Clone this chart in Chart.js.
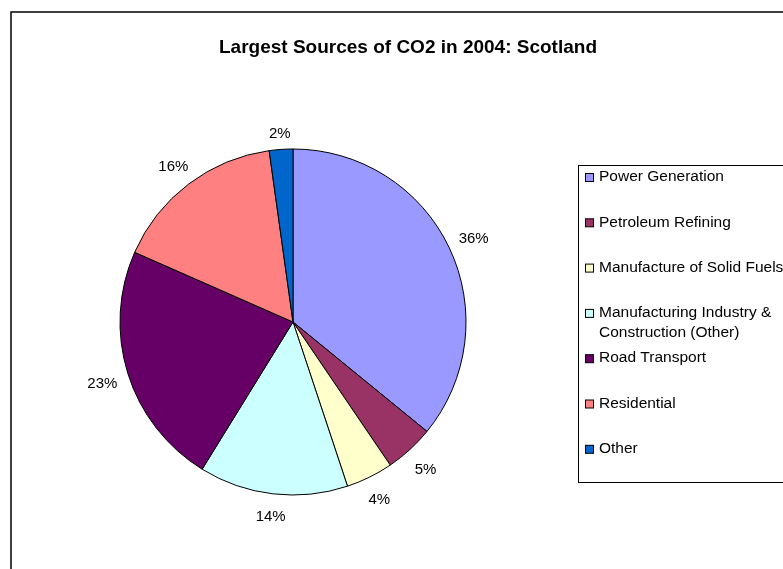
<!DOCTYPE html>
<html lang="en">
<head>
    <meta charset="UTF-8">
    <title>Largest Sources of CO2 in 2004: Scotland</title>
    <!-- Chart.js -->
    <script src="https://cdn.jsdelivr.net/npm/chart.js@4"></script>
    <style>
        html, body { margin: 0; padding: 0; background: #fff; overflow: hidden; }
        #grafico { display: block; }
    </style>
</head>
<body>
<canvas id="grafico" width="783" height="569"></canvas>

<script>
    // Datos (porcentajes aproximados)
    const categorias = [
        'Power Generation',
        'Petroleum Refining',
        'Manufacture of Solid Fuels',
        'Manufacturing Industry & Construction (Other)',
        'Road Transport',
        'Residential',
        'Other'
    ];
    const valores = [35.9, 4.6, 4.4, 13.9, 22.8, 16.2, 2.2];
    const colores = ['#9999FF', '#993366', '#FFFFCC', '#CCFFFF', '#660066', '#FF8080', '#0066CC'];
    const titulo = 'Largest Sources of CO2 in 2004: Scotland';

    const fuente = '"Liberation Sans", Arial, sans-serif';
    const total = valores.reduce((a, b) => a + b, 0);

    // Parte un texto en líneas que caben en maxAncho
    function partirTexto(ctx, texto, maxAncho) {
        const palabras = texto.split(' ');
        const lineas = [];
        let actual = '';
        palabras.forEach(p => {
            const prueba = actual ? actual + ' ' + p : p;
            if (actual && ctx.measureText(prueba).width > maxAncho) {
                lineas.push(actual);
                actual = p;
            } else {
                actual = prueba;
            }
        });
        if (actual) lineas.push(actual);
        return lineas;
    }

    const decoracion = {
        id: 'decoracion',
        afterDraw(chart) {
            const ctx = chart.ctx;
            ctx.save();

            // Marco exterior
            ctx.strokeStyle = '#000';
            ctx.lineWidth = 1.5;
            ctx.strokeRect(11, 12, 900, 700);

            // Título
            ctx.fillStyle = '#000';
            ctx.font = 'bold 19px ' + fuente;
            ctx.textAlign = 'center';
            ctx.textBaseline = 'middle';
            ctx.fillText(titulo, 408, 48);

            // Etiquetas de porcentaje fuera de cada sector
            ctx.font = '15px ' + fuente;
            const meta = chart.getDatasetMeta(0);
            meta.data.forEach((arc, i) => {
                const p = arc.getProps(['x', 'y', 'startAngle', 'endAngle', 'outerRadius'], true);
                const a = (p.startAngle + p.endAngle) / 2;
                const cos = Math.cos(a), sin = Math.sin(a);
                const texto = Math.round(valores[i] / total * 100) + '%';
                const w = ctx.measureText(texto).width;
                const d = p.outerRadius + 10 + Math.abs(cos) * w / 2 + Math.abs(sin) * 8;
                ctx.fillText(texto, p.x + cos * d, p.y + sin * d + 3);
            });

            // Leyenda
            ctx.lineWidth = 1;
            ctx.strokeStyle = '#000';
            ctx.strokeRect(578.5, 165.5, 300, 317);
            const items = chart.options.plugins.legend.labels.generateLabels(chart);
            ctx.font = '15.5px ' + fuente;
            ctx.textAlign = 'left';
            items.forEach((item, i) => {
                const y = 177 + i * 45.3;
                ctx.fillStyle = item.fillStyle;
                ctx.fillRect(585.5, y - 3.5, 8, 8);
                ctx.strokeStyle = '#000';
                ctx.strokeRect(585.5, y - 3.5, 8, 8);
                ctx.fillStyle = '#000';
                partirTexto(ctx, item.text, 205).forEach((linea, j) => {
                    ctx.fillText(linea, 599, y + j * 20);
                });
            });

            ctx.restore();
        }
    };

    const ctx = document.getElementById('grafico').getContext('2d');
    const chart = new Chart(ctx, {
        type: 'pie',
        data: {
            labels: categorias,
            datasets: [{
                data: valores,
                backgroundColor: colores,
                borderColor: '#000',
                borderWidth: 1
            }]
        },
        options: {
            responsive: false,
            animation: false,
            radius: 173,
            layout: { padding: { left: 100, right: 297, top: 140, bottom: 65 } },
            plugins: {
                legend: { display: false },
                tooltip: { enabled: false },
                title: { display: false }
            }
        },
        plugins: [decoracion]
    });
</script>
</body>
</html>
